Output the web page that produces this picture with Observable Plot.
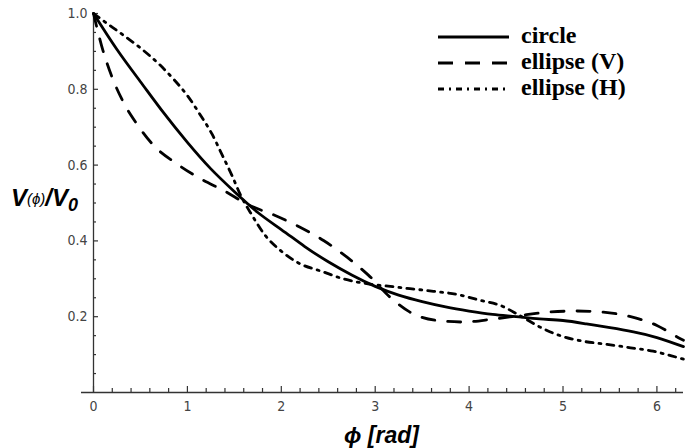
<!DOCTYPE html>
<html><head><meta charset="utf-8">
<script src="https://cdn.jsdelivr.net/npm/d3@7"></script>
<script src="https://cdn.jsdelivr.net/npm/@observablehq/plot@0.6"></script>
<style>body{margin:0;background:#fff} #chart{position:relative;width:690px;height:448px}</style>
</head><body><div id="chart"></div>
<script>
// ---- data ----
const seriesNames = ["circle", "ellipse (V)", "ellipse (H)"];

const circlePhi = [0, 0.25, 0.5, 0.75, 1, 1.25, 1.5, 1.75, 2, 2.25, 2.5, 2.75, 3, 3.25, 3.5, 3.75, 4, 4.25, 4.5, 4.75, 5, 5.25, 5.5, 5.75, 6, 6.283];
const circleV   = [1.0, 0.905, 0.82, 0.737, 0.66, 0.59, 0.53, 0.475, 0.43, 0.385, 0.345, 0.31, 0.28, 0.257, 0.24, 0.226, 0.215, 0.206, 0.2, 0.194, 0.19, 0.181, 0.171, 0.16, 0.145, 0.121];

const ellipseVPhi = [0, 0.085, 0.19, 0.316, 0.458, 0.636, 0.884, 1.14, 1.385, 1.67, 1.935, 2.2, 2.45, 2.7, 2.93, 3.16, 3.37, 3.66, 3.94, 4.26, 4.54, 4.83, 5.15, 5.43, 5.72, 6.0, 6.25, 6.283];
const ellipseVV   = [1.0, 0.916, 0.837, 0.767, 0.71, 0.653, 0.604, 0.564, 0.533, 0.493, 0.467, 0.436, 0.401, 0.357, 0.309, 0.251, 0.212, 0.19, 0.186, 0.194, 0.203, 0.212, 0.215, 0.212, 0.2, 0.177, 0.142, 0.138];

const ellipseHPhi = [0, 0.12, 0.3, 0.5, 0.7, 0.87, 1.01, 1.136, 1.26, 1.37, 1.474, 1.56, 1.69, 1.83, 1.99, 2.166, 2.45, 2.66, 2.91, 3.16, 3.37, 3.62, 3.87, 4.12, 4.33, 4.54, 4.76, 4.97, 5.22, 5.47, 5.72, 5.96, 6.21, 6.283];
const ellipseHV   = [1.0, 0.978, 0.946, 0.909, 0.866, 0.822, 0.78, 0.733, 0.683, 0.627, 0.573, 0.524, 0.467, 0.414, 0.375, 0.344, 0.318, 0.3, 0.287, 0.28, 0.274, 0.267, 0.259, 0.243, 0.23, 0.203, 0.172, 0.15, 0.135, 0.127, 0.118, 0.109, 0.093, 0.088];

const xMajorTicks = [0, 1, 2, 3, 4, 5, 6];
const xMinorTicks = [0.2,0.4,0.6,0.8,1.2,1.4,1.6,1.8,2.2,2.4,2.6,2.8,3.2,3.4,3.6,3.8,4.2,4.4,4.6,4.8,5.2,5.4,5.6,5.8,6.2];
const yMajorTicks = [0.2, 0.4, 0.6, 0.8, 1.0];
const yMinorTicks = [0.05,0.1,0.15,0.25,0.3,0.35,0.45,0.5,0.55,0.65,0.7,0.75,0.85,0.9,0.95];
const yTickLabels = ["0.2", "0.4", "0.6", "0.8", "1.0"];
const xLabel = "ϕ [rad]";

// ---- build tables ----
const toRows = (phi, v, s) => phi.map((p, i) => ({phi: p, v: v[i], series: s}));
const circleRows = toRows(circlePhi, circleV, seriesNames[0]);
const vRows = toRows(ellipseVPhi, ellipseVV, seriesNames[1]);
const hRows = toRows(ellipseHPhi, ellipseHV, seriesNames[2]);

const styles = [
  {name: seriesNames[0], dash: null, legendDash: null},
  {name: seriesNames[1], dash: "13,13", legendDash: "15,12"},
  {name: seriesNames[2], dash: "7,6,2,6", legendDash: "6,5,2,5"}
];
const SW = 2.8;
const axisColor = "#333";
const tickFont = "'Liberation Sans Narrow', 'DejaVu Sans Condensed', 'DejaVu Sans', sans-serif";

const chart = Plot.plot({
  width: 690, height: 448,
  marginLeft: 93, marginRight: 7, marginTop: 13, marginBottom: 56,
  x: {domain: [0, 2 * Math.PI]},
  y: {domain: [0, 1]},
  style: {background: "#fff", color: axisColor},
  marks: [
    Plot.ruleY([0], {stroke: axisColor, strokeWidth: 1.3, insetLeft: -12}),
    Plot.ruleX([0], {stroke: axisColor, strokeWidth: 1.3}),
    Plot.axisX(xMajorTicks, {anchor: "bottom", tickSize: -6, fill: "none", stroke: axisColor, strokeWidth: 1.2, label: null}),
    Plot.axisX(xMinorTicks, {anchor: "bottom", tickSize: -4, fill: "none", stroke: axisColor, strokeWidth: 1.2, label: null}),
    Plot.axisY(yMajorTicks, {anchor: "left", tickSize: -5, fill: "none", stroke: axisColor, strokeWidth: 1.2, label: null}),
    Plot.axisY(yMinorTicks, {anchor: "left", tickSize: -3, fill: "none", stroke: axisColor, strokeWidth: 1.2, label: null}),
    Plot.axisX(xMajorTicks, {anchor: "bottom", tickSize: 0, tickPadding: 9, stroke: "none", fill: "#444",
      fontSize: 14, fontFamily: tickFont, label: null, tickFormat: d => String(d)}),
    Plot.axisY(yMajorTicks, {anchor: "left", tickSize: 0, tickPadding: 6, stroke: "none", fill: "#444",
      fontSize: 14, fontFamily: tickFont, label: null, tickFormat: (d, i) => yTickLabels[i]}),
    Plot.line(circleRows, {x: "phi", y: "v", curve: "natural", stroke: "#000", strokeWidth: SW}),
    Plot.line(vRows, {x: "phi", y: "v", curve: "monotone-x", stroke: "#000", strokeWidth: SW, strokeDasharray: styles[1].dash}),
    Plot.line(hRows, {x: "phi", y: "v", curve: "monotone-x", stroke: "#000", strokeWidth: SW, strokeDasharray: styles[2].dash}),
    Plot.text([xLabel], {text: d => d, frameAnchor: "bottom", dx: -7, dy: 50, lineAnchor: "bottom",
      fontSize: 23, fontWeight: "bold", fontStyle: "italic", fill: "#000",
      fontFamily: "'Liberation Sans', Arial, sans-serif"})
  ]
});

document.getElementById("chart").appendChild(chart);

const svg = d3.select(chart);
// ---- y label ----
const yl = svg.append("text")
  .attr("x", 11).attr("y", 206).attr("text-anchor", "start")
  .attr("font-family", "'Liberation Sans', Arial, sans-serif")
  .attr("font-weight", "bold").attr("font-style", "italic").attr("fill", "#000");
yl.append("tspan").attr("font-size", 24).text("V");
yl.append("tspan").attr("font-size", 15).attr("font-weight", "normal").attr("dy", -2).text("(ϕ)");
yl.append("tspan").attr("font-size", 24).attr("dy", 2).text("/V");
yl.append("tspan").attr("font-size", 18).attr("dy", 5).text("0");

// ---- legend ----
const lg = svg.append("g").attr("text-anchor", "start");
const legendY = [37, 63, 89];
styles.forEach((s, i) => {
  lg.append("line")
    .attr("x1", 438).attr("x2", 509)
    .attr("y1", legendY[i]).attr("y2", legendY[i])
    .attr("stroke", "#000").attr("stroke-width", SW)
    .attr("stroke-dasharray", s.legendDash);
  lg.append("text")
    .attr("x", 521).attr("y", legendY[i] + 5.5)
    .attr("font-family", "'Liberation Serif', 'Times New Roman', serif")
    .attr("font-weight", "bold").attr("font-size", 24).attr("fill", "#000")
    .text(s.name);
});
</script>
</body></html>
